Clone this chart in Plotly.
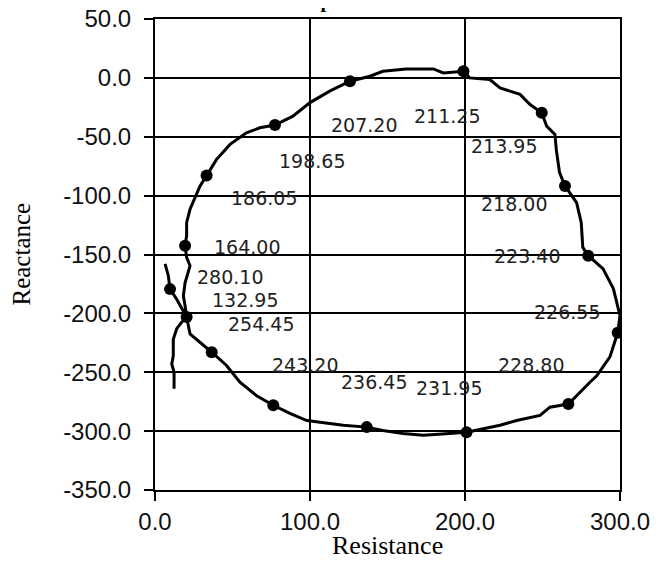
import plotly.graph_objects as go

# traced impedance locus (resistance, reactance)
curve_r = [12.3, 12.3, 10.8, 11.8, 11.8, 14.0, 17.2, 20.4, 19.4, 18.3, 19.4, 21.5, 22.6, 20.4,
           19.4, 20.4, 20.4, 22.6, 26.9, 29.0, 33.3, 39.8, 42.0, 48.4, 59.0, 67.7, 77.4, 89.0,
           100.0, 113.0, 125.8, 138.7, 147.0, 162.0, 179.6, 186.0, 199.0, 203.0, 216.0, 222.6,
           235.5, 242.0, 249.5, 252.7, 258.0, 259.0, 261.0, 264.5, 272.0, 275.0, 276.0, 279.5,
           289.0, 295.7, 300.0, 298.5, 293.5, 285.0, 280.6, 274.0, 266.7, 254.8, 248.4, 233.3,
           222.6, 211.8, 201.0, 190.0, 173.0, 160.0, 147.0, 136.6, 121.5, 104.0, 98.0, 87.0,
           76.3, 65.6, 54.8, 46.0, 36.6, 22.6, 20.4, 14.0, 9.7, 8.6, 6.5]
curve_x = [-264, -250, -243, -236, -222, -213, -207.6, -203, -193.5, -185, -174, -165, -159.6, -152.5,
           -142.6, -134, -123, -111.6, -97.5, -92, -83, -69, -66, -56.5, -46.6, -42.4, -40, -32.5,
           -21, -11, -2.8, 1.4, 5.6, 7.6, 7.6, 4.2, 5.6, 0, -1.4, -8.5,
           -14, -22.6, -29.7, -41, -48, -62, -80.5, -91.8, -106, -123, -144, -151,
           -162, -179, -202, -216.5, -237, -253, -258.5, -267, -277, -279.7, -286.7, -291,
           -295, -298, -301, -302, -303.6, -302, -299.5, -296.6, -295, -292, -291, -285,
           -278, -270, -258.5, -244, -233, -217.5, -203, -188, -179.4, -168, -158]

# marked frequencies
freq_labels = ["132.95", "164.00", "186.05", "198.65", "207.20", "211.25", "213.95", "218.00",
               "223.40", "226.55", "228.80", "231.95", "236.45", "243.20", "254.45", "280.10"]
marker_r = [20.4, 19.4, 33.3, 77.4, 125.8, 199.0, 249.5, 264.5, 279.5, 298.5, 266.7, 201.0,
            136.6, 76.3, 36.6, 9.7]
marker_x = [-203, -142.6, -83, -40, -2.8, 5.6, -29.7, -91.8, -151, -216.5, -277, -301,
            -296.6, -278, -233, -179.4]
label_r = [58.0, 59.6, 70.0, 101.0, 134.8, 188.6, 225.0, 231.6, 240.0, 266.0, 242.4, 189.7,
           141.0, 97.0, 68.4, 48.4]
label_x = [-189, -143.5, -101.7, -70.6, -39.6, -32, -58, -107, -151, -198.6, -244, -263.5,
           -258, -244, -209, -169.5]

x_ticks = [0, 100, 200, 300]
y_ticks = [50, 0, -50, -100, -150, -200, -250, -300, -350]

fig = go.Figure()
fig.add_trace(go.Scatter(x=curve_r, y=curve_x, mode="lines",
                         line=dict(color="black", width=3), showlegend=False,
                         hoverinfo="skip"))
fig.add_trace(go.Scatter(x=marker_r, y=marker_x, mode="markers",
                         marker=dict(color="black", size=12), showlegend=False,
                         text=freq_labels))

for t, r, x in zip(freq_labels, label_r, label_x):
    fig.add_annotation(x=r, y=x, text=t, showarrow=False, xref="x", yref="y",
                       font=dict(family="DejaVu Sans", size=19, color="#222"))

# title (cut off at top of the picture)
fig.add_annotation(text="<b>Impedance Plot</b>", xref="paper", yref="paper", x=0.5, y=1,
                   xanchor="center", yanchor="bottom", yshift=5, xshift=-25, showarrow=False,
                   font=dict(family="Liberation Serif", size=20, color="black"))

# axis titles
fig.add_annotation(text="Resistance", xref="paper", yref="paper", x=0.5, y=0,
                   xanchor="center", yanchor="middle", yshift=-55, showarrow=False,
                   font=dict(family="Liberation Serif", size=26, color="black"))
fig.add_annotation(text="Reactance", xref="paper", yref="paper", x=0, y=0.5, textangle=-90,
                   xanchor="center", yanchor="middle", xshift=-134, showarrow=False,
                   font=dict(family="Liberation Serif", size=25, color="black"))

axis_common = dict(showline=True, linecolor="black", linewidth=2, mirror=True,
                   showgrid=True, gridcolor="black", gridwidth=1.8, zeroline=False,
                   ticks="outside", ticklen=9, tickwidth=2, tickcolor="black", automargin=False,
                   ticklabeloverflow="allow",
                   tickfont=dict(family="Liberation Sans", size=24, color="#111"))

fig.update_xaxes(range=[0, 300], tickvals=x_ticks, ticktext=[f"{v:.1f}" for v in x_ticks],
                 **axis_common)
fig.update_yaxes(range=[-350, 50], tickvals=y_ticks, ticktext=[f"{v:.1f}" for v in y_ticks],
                 ticklabelstandoff=8, **axis_common)

fig.update_layout(width=660, height=564, margin=dict(l=147, r=48, t=11, b=82),
                  plot_bgcolor="white", paper_bgcolor="white")

fig.write_html("out.html")
